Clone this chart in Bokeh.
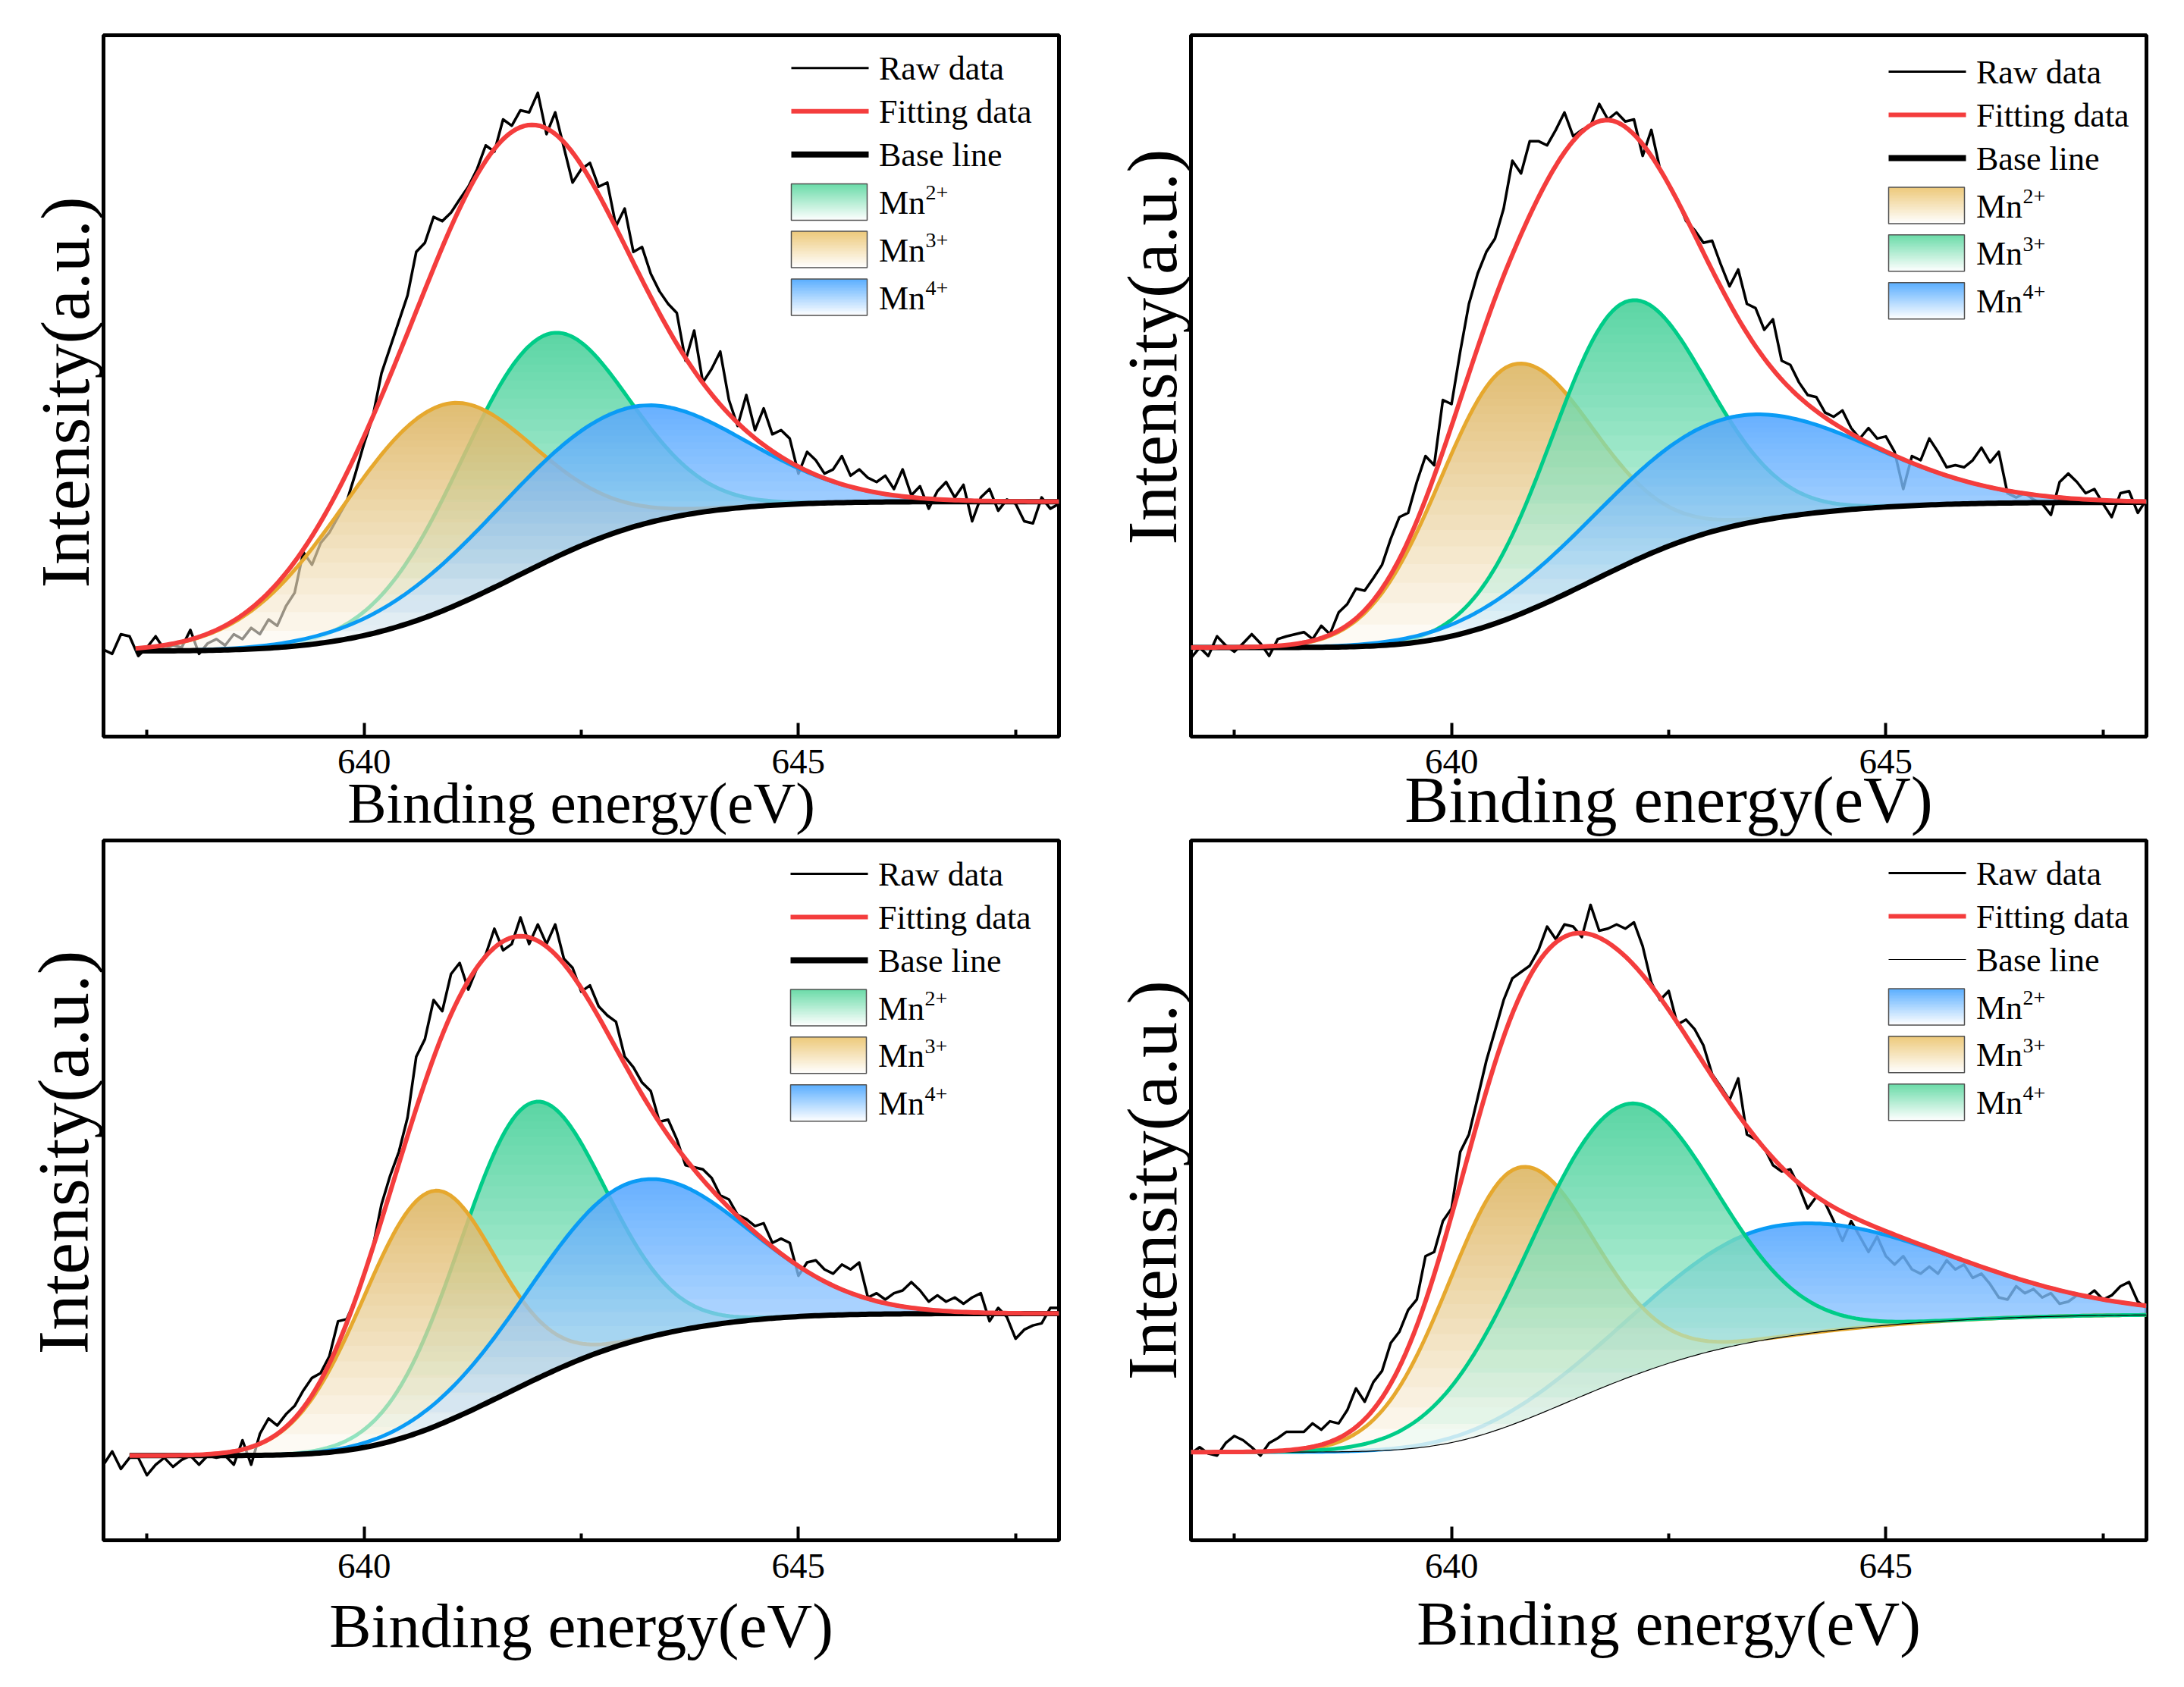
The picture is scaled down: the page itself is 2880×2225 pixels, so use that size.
import numpy as np
from bokeh.plotting import figure
from bokeh.layouts import column, row
from bokeh.models import Range1d, FixedTicker, Title
from bokeh.core.properties import value
from bokeh.embed import file_html
from bokeh.resources import INLINE

# ---------------- data ----------------
# raw spectra sampled every 0.1 eV from 637.0 to 648.0 eV, intensity in % of frame height
raw_energy = np.round(637.0 + 0.1 * np.arange(111), 1)

raw_a = [12.4, 11.8, 14.6, 14.3, 11.5, 12.7, 14.3, 12.4, 13.0, 12.7, 15.2,
         11.8, 13.3, 13.9, 13.0, 14.6, 13.9, 15.5, 14.6, 16.7, 15.8,
         18.6, 20.5, 26.3, 24.5, 27.6, 29.1, 31.3, 33.5, 37.5, 41.8,
         45.6, 51.8, 55.5, 59.2, 62.9, 69.1, 70.4, 74.1, 73.5, 74.7,
         76.6, 78.4, 80.9, 84.3, 83.4, 88.0, 87.1, 89.3, 89.0, 91.8,
         85.9, 89.0, 84.0, 79.0, 80.9, 81.8, 78.4, 79.0, 72.8, 75.3,
         69.1, 69.8, 66.0, 63.5, 61.7, 60.4, 53.6, 57.9, 50.5, 52.4,
         54.9, 48.0, 44.3, 48.7, 43.7, 46.8, 43.1, 43.7, 42.5, 37.5,
         40.6, 39.4, 37.5, 38.1, 40.0, 37.2, 38.1, 36.9, 36.3, 37.2,
         35.3, 38.1, 34.4, 35.7, 32.5, 35.0, 36.3, 34.1, 35.9, 30.7,
         34.1, 35.3, 32.2, 33.8, 33.2, 30.7, 30.4, 34.1, 32.5, 33.2]

raw_b = [11.2, 12.7, 11.5, 14.3, 13.0, 12.1, 13.3, 14.6, 13.3, 11.5, 13.9,
         14.3, 14.6, 14.9, 13.9, 15.8, 14.6, 17.7, 18.9, 21.1, 20.8,
         22.6, 24.5, 28.2, 31.3, 31.9, 36.3, 40.0, 38.7, 48.0, 47.4,
         54.9, 61.7, 66.0, 69.1, 71.0, 75.3, 82.1, 80.3, 84.9, 84.9,
         84.3, 86.5, 89.0, 85.6, 86.5, 87.1, 90.2, 88.0, 89.0, 87.7,
         88.0, 82.8, 86.5, 80.9, 78.7, 76.6, 73.5, 72.2, 70.4, 70.7,
         67.3, 64.2, 66.6, 61.7, 61.1, 58.0, 59.5, 53.6, 53.0, 50.5,
         48.7, 48.4, 46.2, 45.6, 46.5, 44.0, 42.5, 44.0, 42.5, 42.8,
         40.6, 35.3, 40.0, 39.4, 42.5, 40.6, 38.4, 38.7, 38.4, 39.4,
         41.2, 39.1, 40.6, 34.7, 34.1, 34.7, 33.8, 33.2, 31.6, 36.3,
         37.5, 36.3, 34.7, 35.3, 33.2, 31.3, 34.7, 35.0, 31.9, 33.8]

raw_c = [10.8, 12.7, 10.2, 11.8, 11.8, 9.3, 10.8, 11.8, 10.5, 11.5, 12.1,
         10.8, 12.1, 11.8, 12.1, 10.8, 14.3, 10.8, 15.2, 17.4, 16.4,
         18.0, 19.2, 21.4, 23.2, 23.9, 26.3, 31.3, 31.6, 34.4, 38.1,
         41.8, 48.0, 52.1, 55.5, 60.4, 69.1, 71.6, 77.2, 75.6, 80.9,
         82.5, 78.7, 81.8, 83.7, 87.4, 84.3, 85.2, 89.0, 85.2, 88.0,
         85.2, 88.0, 83.1, 81.8, 78.4, 79.3, 76.3, 75.0, 74.1, 69.1,
         67.6, 65.4, 64.2, 59.8, 60.1, 57.3, 53.6, 53.3, 53.0, 51.8,
         49.3, 48.7, 46.5, 45.9, 44.9, 45.3, 42.5, 43.1, 42.5, 37.8,
         39.7, 40.0, 38.7, 38.1, 39.4, 38.7, 39.7, 34.7, 35.3, 34.4,
         35.3, 35.7, 36.9, 35.7, 34.1, 35.0, 34.1, 34.7, 33.8, 34.7,
         35.3, 31.3, 33.2, 31.9, 28.8, 30.1, 30.7, 31.0, 33.2, 33.2]

raw_d = [12.4, 13.3, 12.4, 12.1, 13.9, 14.9, 14.3, 13.3, 12.1, 13.9, 14.6,
         15.5, 15.5, 15.5, 16.7, 15.8, 17.0, 16.7, 18.6, 21.7, 19.8,
         22.6, 24.2, 28.2, 29.8, 32.9, 34.4, 40.6, 41.2, 45.6, 47.4,
         55.5, 58.0, 63.2, 68.5, 72.8, 77.2, 80.3, 81.2, 82.1, 84.3,
         87.7, 85.9, 88.0, 87.7, 86.2, 90.8, 87.1, 87.4, 88.0, 87.4,
         88.3, 84.9, 79.7, 77.2, 78.5, 73.7, 74.4, 73.0, 70.7, 66.6,
         64.8, 62.9, 66.0, 58.0, 57.3, 56.1, 53.6, 52.7, 53.0, 50.5,
         47.4, 49.1, 48.2, 45.6, 42.8, 45.6, 43.4, 41.2, 43.4, 40.6,
         39.4, 40.6, 38.7, 38.1, 39.1, 38.1, 40.0, 38.7, 39.4, 37.5,
         38.1, 36.6, 34.7, 34.4, 36.3, 35.3, 35.9, 34.7, 35.3, 33.8,
         34.1, 35.0, 34.7, 35.7, 34.4, 35.0, 36.3, 36.9, 34.1, 33.2]

# fitted components, listed in legend order Mn2+, Mn3+, Mn4+
ion_charges = ["2+", "3+", "4+"]

hue_a = ["green", "orange", "blue"]
center_a = [642.06, 640.85, 642.97]
height_a = [32.4, 29.4, 17.2]
sigl_a = [0.97, 1.17, 1.50]
sigr_a = [0.93, 1.07, 1.30]
base_a = [12.2, 33.5]
start_a = 637.37

hue_b = ["orange", "green", "blue"]
center_b = [640.67, 641.98, 643.18]
height_b = [36.0, 37.5, 15.6]
sigl_b = [0.83, 0.84, 1.50]
sigr_b = [0.95, 0.91, 1.54]
base_b = [12.7, 33.4]
start_b = 637.0

hue_c = ["green", "orange", "blue"]
center_c = [641.90, 640.75, 643.10]
height_c = [39.8, 33.8, 22.8]
sigl_c = [0.81, 0.79, 1.16]
sigr_c = [0.84, 0.75, 1.25]
base_c = [12.1, 32.4]
start_c = 637.3

hue_d = ["blue", "orange", "green"]
center_d = [643.75, 640.74, 641.96]
height_d = [16.0, 36.4, 39.2]
sigl_d = [1.50, 0.80, 1.10]
sigr_d = [1.90, 0.88, 1.04]
base_d = [12.6, 32.2]
start_d = 637.0

x_ticks = [640, 645]
x_minor = [637.5, 642.5, 647.5]

# ---------------- styles ----------------
FONT = "Liberation Serif"
RED = "#F43D3D"
LINE = {"green": "#00CC88", "orange": "#E6A82E", "blue": "#0A9BF5"}
FILL = {"green": "#36CF90", "orange": "#E6BA59", "blue": "#47A6FF"}
KEY = {"green": "#6ADBA8", "orange": "#EDC97A", "blue": "#5AAEFF"}
NL = 24
OMAX = 0.8
ALPHA = 1 - (1 - OMAX) ** (1.0 / NL)
WHITE_A = 0.55


def mix_white(hexc, t):
    r, g, b = int(hexc[1:3], 16), int(hexc[3:5], 16), int(hexc[5:7], 16)
    r = round(r + (255 - r) * t)
    g = round(g + (255 - g) * t)
    b = round(b + (255 - b) * t)
    return "#%02x%02x%02x" % (r, g, b)


def peak(xg, c, a, sl, sr):
    d = xg - c
    s = np.where(d < 0, sl, sr)
    return a * np.exp(-0.5 * (d / s) ** 2)


def panel(raw, hues, centers, heights, sigl, sigr, base_lv, start, geo):
    W, H, mbl, mbr, mbt, mbb = geo["box"]
    p = figure(width=W, height=H, x_range=Range1d(637, 648), y_range=Range1d(0, 100),
               output_backend="svg", toolbar_location=None,
               min_border_left=mbl, min_border_right=mbr,
               min_border_top=mbt, min_border_bottom=mbb)
    p.background_fill_color = "white"
    p.border_fill_color = "white"
    p.xgrid.visible = False
    p.ygrid.visible = False
    p.outline_line_color = "black"
    p.outline_line_width = 5
    p.outline_line_alpha = 1.0

    fw = W - mbl - mbr
    fh = H - mbt - mbb

    def X(px):
        return 637 + px * 11.0 / fw

    def Y(py):
        return 100 - py * 100.0 / fh

    # model curves
    xg = np.linspace(start, 648.0, 241)
    comps = [peak(xg, c, a, sl, sr) for c, a, sl, sr in zip(centers, heights, sigl, sigr)]
    total = comps[0] + comps[1] + comps[2]
    cum = np.concatenate([[0.0], np.cumsum(0.5 * (total[1:] + total[:-1]) * np.diff(xg))])
    base = base_lv[0] + (base_lv[1] - base_lv[0]) * cum / cum[-1]

    p.line(raw_energy, raw, line_color="black", line_width=3.5, line_join="round")

    ymin = base.min()
    for hue, g in zip(hues, comps):
        top = base + g
        ymax = top.max()
        p.varea(x=xg, y1=base, y2=top, fill_color="white", fill_alpha=WHITE_A)
        for j in range(NL):
            lev = ymin + (1 - (1 - ALPHA) ** j) / OMAX * (ymax - ymin)
            y1 = np.minimum(np.maximum(base, lev), top)
            p.varea(x=xg, y1=y1, y2=top, fill_color=FILL[hue], fill_alpha=ALPHA)
        p.line(xg, top, line_color=LINE[hue], line_width=5, line_join="round")
    p.line(xg, base, line_color="black", line_width=geo["base_w"], line_join="round")
    p.line(xg, base + total, line_color=RED, line_width=6, line_join="round")

    # legend (drawn inside the frame)
    ax, ay = geo["legend"]
    rows_y = [ay, ay + 57, ay + 114]
    widths = [3, 6, geo["base_key_w"]]
    colors = ["black", RED, "black"]
    for ry, lw, lc in zip(rows_y, widths, colors):
        p.line([X(ax), X(ax + 102)], [Y(ry), Y(ry)], line_color=lc, line_width=lw)
    p.text(x=[X(ax + 115.5)] * 3, y=[Y(r + 1) for r in rows_y],
           text=["Raw data", "Fitting data", "Base line"],
           text_font=value(FONT), text_font_size="44px", text_color="black",
           text_baseline="middle", text_align="left")
    box_c = [ay + 176.6, ay + 239.2, ay + 302.2]
    nb = 24
    for bc, hue in zip(box_c, hues):
        tops = [Y(bc - 24 + k * 48.0 / nb) for k in range(nb)]
        bots = [Y(bc - 24 + (k + 1) * 48.0 / nb + 0.6) for k in range(nb)]
        cols = [mix_white(KEY[hue], (k + 0.5) / nb) for k in range(nb)]
        p.quad(left=X(ax), right=X(ax + 100), top=tops, bottom=bots,
               fill_color=cols, line_color=None)
        p.quad(left=X(ax), right=X(ax + 100), top=Y(bc - 24), bottom=Y(bc + 24),
               fill_color=None, line_color="#505050", line_width=1.5)
    p.text(x=[X(ax + 115.5)] * 3, y=[Y(bc + 1) for bc in box_c], text=["Mn"] * 3,
           text_font=value(FONT), text_font_size="44px", text_color="black",
           text_baseline="middle", text_align="left")
    p.text(x=[X(ax + 177)] * 3, y=[Y(bc - 12) for bc in box_c], text=ion_charges,
           text_font=value(FONT), text_font_size="28px", text_color="black",
           text_baseline="middle", text_align="left")

    # axes
    xa = p.xaxis[0]
    xa.ticker = FixedTicker(ticks=x_ticks, minor_ticks=x_minor)
    xa.axis_line_color = None
    xa.major_tick_in = 18
    xa.major_tick_out = 0
    xa.minor_tick_in = 9
    xa.minor_tick_out = 0
    xa.major_tick_line_width = 4
    xa.minor_tick_line_width = 4
    xa.major_tick_line_color = "black"
    xa.minor_tick_line_color = "black"
    xa.major_label_text_font = FONT
    xa.major_label_text_font_size = "47px"
    xa.major_label_text_color = "black"
    xa.major_label_standoff = geo["tick_standoff"]
    xa.axis_label = "Binding energy(eV)"
    xa.axis_label_text_font = FONT
    xa.axis_label_text_font_style = "normal"
    xa.axis_label_text_color = "black"
    xa.axis_label_text_font_size = "%dpx" % geo["xlab"][0]
    xa.axis_label_standoff = geo["xlab"][1]

    # y axis carries no ticks; its (invisible) outer tick length spaces the title
    size, gap, offset = geo["ylab"]
    ya = p.yaxis[0]
    ya.ticker = FixedTicker(ticks=[])
    ya.axis_line_color = None
    ya.major_tick_line_color = None
    ya.minor_tick_line_color = None
    ya.major_tick_in = 0
    ya.major_tick_out = gap
    ya.minor_tick_in = 0
    ya.minor_tick_out = 0
    ya.major_label_standoff = 0

    p.add_layout(Title(text="Intensity(a.u.)", align="left", offset=offset,
                       standoff=0, text_font=FONT,
                       text_font_size="%dpx" % size, text_font_style="normal",
                       text_color="black"), "left")
    return p


geo_a = dict(box=(1440, 1106, 136, 44, 46, 135), tick_standoff=17, xlab=(77, -7),
             ylab=(92, 5, 196), legend=(907, 43.3), base_w=7, base_key_w=8)
geo_b = dict(box=(1432, 1106, 130, 42, 46, 135), tick_standoff=17, xlab=(87, -17),
             ylab=(93, 10, 253), legend=(920, 48), base_w=7, base_key_w=8)
geo_c = dict(box=(1440, 1117, 136, 44, 2, 192), tick_standoff=18, xlab=(83, 14),
             ylab=(95, 0, 245), legend=(906, 44), base_w=7, base_key_w=8)
geo_d = dict(box=(1432, 1117, 130, 42, 2, 192), tick_standoff=18, xlab=(83, 11),
             ylab=(94, 24, 211), legend=(920, 43), base_w=1.2, base_key_w=1.2)

pa = panel(raw_a, hue_a, center_a, height_a, sigl_a, sigr_a, base_a, start_a, geo_a)
pb = panel(raw_b, hue_b, center_b, height_b, sigl_b, sigr_b, base_b, start_b, geo_b)
pc = panel(raw_c, hue_c, center_c, height_c, sigl_c, sigr_c, base_c, start_c, geo_c)
pd = panel(raw_d, hue_d, center_d, height_d, sigl_d, sigr_d, base_d, start_d, geo_d)

layout = column(row(pa, pb), row(pc, pd))
open("out.html", "w").write(file_html(layout, INLINE, title="Mn 2p XPS"))
